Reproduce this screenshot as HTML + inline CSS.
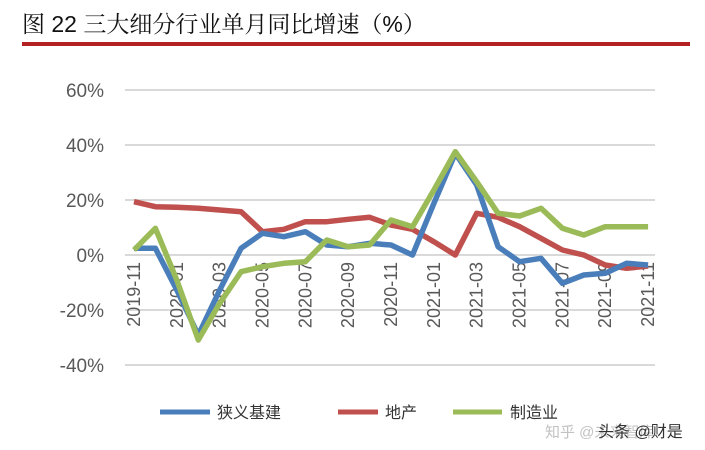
<!DOCTYPE html>
<html><head><meta charset="utf-8"><style>
body{margin:0;background:#fff;width:705px;height:450px;overflow:hidden}
svg{display:block}
</style></head><body>
<svg width="705" height="450" xmlns="http://www.w3.org/2000/svg" font-family="Liberation Sans, Noto Sans CJK SC, sans-serif">
<text x="22" y="32" font-size="23" fill="#111" font-family="Liberation Sans, Noto Serif CJK SC, serif">图 22 三大细分行业单月同比增速（%）</text>
<rect x="22" y="42" width="668" height="4" fill="#b22222"/>
<g stroke="#d9d9d9" stroke-width="2">
<line x1="125" y1="90" x2="655" y2="90"/><line x1="125" y1="145" x2="655" y2="145"/>
<line x1="125" y1="200" x2="655" y2="200"/><line x1="125" y1="255" x2="655" y2="255"/>
<line x1="125" y1="310" x2="655" y2="310"/><line x1="125" y1="365" x2="655" y2="365"/>
</g>
<g font-size="19" fill="#595959" text-anchor="end">
<text x="104" y="97">60%</text><text x="104" y="152">40%</text><text x="104" y="207">20%</text>
<text x="104" y="262">0%</text><text x="104" y="317">-20%</text><text x="104" y="372">-40%</text>
</g>
<g id="xl" font-size="18" fill="#595959" text-anchor="end"></g>
<g id="ln" fill="none" stroke-width="5.5" stroke-linejoin="round"></g>
<g font-size="16" fill="#333">
<line x1="160" y1="412" x2="210" y2="412" stroke="#4a7ebb" stroke-width="5"/>
<text x="217" y="418">狭义基建</text>
<line x1="338" y1="412" x2="378" y2="412" stroke="#c0504d" stroke-width="5"/>
<text x="385" y="418">地产</text>
<line x1="453" y1="412" x2="502" y2="412" stroke="#9bbb59" stroke-width="5"/>
<text x="510" y="418">制造业</text>
</g>
<text x="545" y="437" font-size="15" fill="#999" opacity="0.6">知乎 @未来智库</text>
<text x="598" y="437" font-size="16" fill="#333">头条 @财是</text>
</svg>
<script>
var B=[355,355,480,615,480,355,310,320,305,345,350,340,345,375,220,70,165,350,395,385,460,435,430,400,405];
var R=[215,230,232,235,240,245,305,298,275,275,268,262,285,298,335,375,250,262,290,325,360,375,405,415,408];
var G=[360,295,450,630,520,425,410,400,395,330,350,345,270,290,180,65,155,250,258,235,295,315,290,290,290];
function X(i){return 134+i*21.42}
function pts(a){return a.map(function(v,i){return X(i).toFixed(1)+","+(130+v/3).toFixed(1)}).join(" ")}
var ln=document.getElementById("ln"),ns="http://www.w3.org/2000/svg";
[[R,"#c0504d"],[B,"#4a7ebb"],[G,"#9bbb59"]].forEach(function(s){var p=document.createElementNS(ns,"polyline");p.setAttribute("points",pts(s[0]));p.setAttribute("stroke",s[1]);ln.appendChild(p)});
var xl=document.getElementById("xl"),labs=["2019-11","2020-01","2020-03","2020-05","2020-07","2020-09","2020-11","2021-01","2021-03","2021-05","2021-07","2021-09","2021-11"];
labs.forEach(function(t,k){var e=document.createElementNS(ns,"text");var x=X(k*2)+6;e.setAttribute("transform","translate("+x+",262) rotate(-90)");e.textContent=t;xl.appendChild(e)});
</script>
</body></html>
